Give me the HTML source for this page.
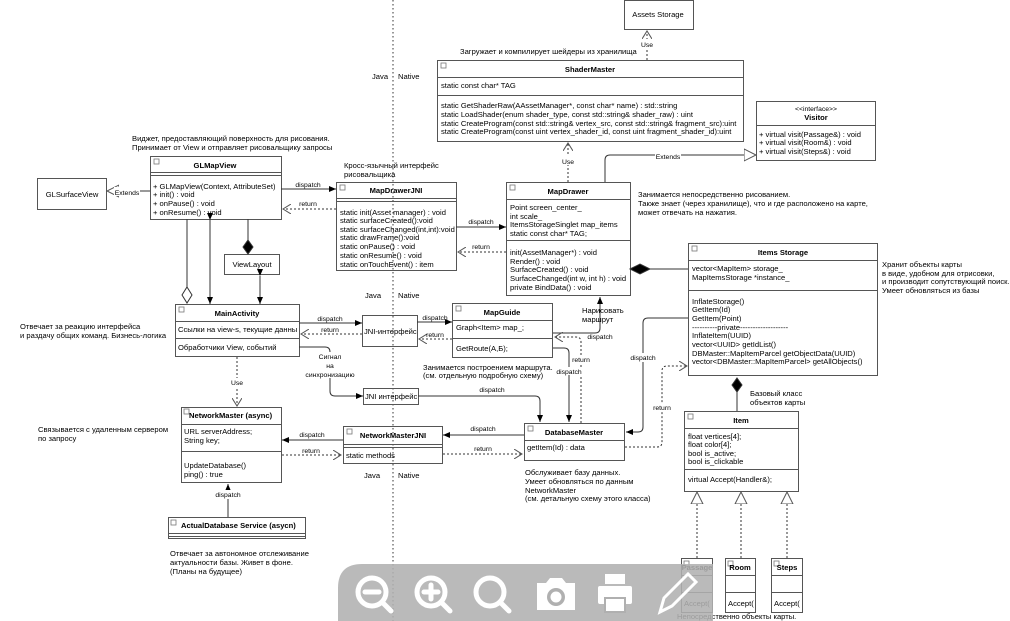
<!DOCTYPE html>
<html><head><meta charset="utf-8"><style>
html,body{margin:0;padding:0;background:#fff;}
svg{display:block;font-family:"Liberation Sans","DejaVu Sans",sans-serif;}
text{font-size:7.6px;fill:#000;}
.b{font-weight:bold;}
.s{font-size:6.8px;}
</style></head><body>
<svg width="1010" height="621" viewBox="0 0 1010 621" xmlns="http://www.w3.org/2000/svg">
<defs>
<marker id="fa" markerWidth="8" markerHeight="8" refX="7" refY="4" orient="auto" markerUnits="userSpaceOnUse"><path d="M0,1 L7,4 L0,7 z" fill="#000"/></marker>
<marker id="oa" markerWidth="10" markerHeight="10" refX="8" refY="5" orient="auto" markerUnits="userSpaceOnUse"><path d="M0,0 L8,5 L0,10" fill="none" stroke="#555" stroke-width="1"/></marker>
<marker id="ha" markerWidth="14" markerHeight="14" refX="12" refY="7" orient="auto" markerUnits="userSpaceOnUse"><path d="M0,1 L12,7 L0,13 z" fill="#fff" stroke="#555" stroke-width="1"/></marker>
</defs>
<g fill="none" stroke="#555" stroke-width="1">
<line x1="393" y1="0" x2="393" y2="621" stroke="#333" stroke-dasharray="1.5,2.5"/>
<rect x="624.5" y="0.5" width="69" height="29"/>
<rect x="437.5" y="60.5" width="306" height="81"/><line x1="437" y1="77.5" x2="744" y2="77.5"/><line x1="437" y1="95.5" x2="744" y2="95.5"/>
<rect x="756.5" y="101.5" width="119" height="59"/><line x1="756" y1="125.5" x2="876" y2="125.5"/>
<rect x="506.5" y="182.5" width="124" height="113"/><line x1="506" y1="199.5" x2="631" y2="199.5"/><line x1="506" y1="240.5" x2="631" y2="240.5"/>
<rect x="688.5" y="243.5" width="189" height="132"/><line x1="688" y1="260.5" x2="878" y2="260.5"/><line x1="688" y1="290.5" x2="878" y2="290.5"/>
<rect x="684.5" y="411.5" width="114" height="80"/><line x1="684" y1="428.5" x2="799" y2="428.5"/><line x1="684" y1="469.5" x2="799" y2="469.5"/>
<rect x="681.5" y="558.5" width="31" height="54"/><line x1="681" y1="575.5" x2="713" y2="575.5"/><line x1="681" y1="592.5" x2="713" y2="592.5"/>
<rect x="725.5" y="558.5" width="30" height="54"/><line x1="725" y1="575.5" x2="756" y2="575.5"/><line x1="725" y1="592.5" x2="756" y2="592.5"/>
<rect x="771.5" y="558.5" width="31" height="54"/><line x1="771" y1="575.5" x2="803" y2="575.5"/><line x1="771" y1="592.5" x2="803" y2="592.5"/>
<rect x="150.5" y="156.5" width="131" height="63"/><line x1="150" y1="172.5" x2="282" y2="172.5"/><line x1="150" y1="175.5" x2="282" y2="175.5"/>
<rect x="37.5" y="178.5" width="69" height="31"/>
<rect x="336.5" y="182.5" width="120" height="88"/><line x1="336" y1="198.5" x2="457" y2="198.5"/><line x1="336" y1="201.5" x2="457" y2="201.5"/>
<rect x="224.5" y="254.5" width="55" height="20"/>
<rect x="175.5" y="304.5" width="124" height="52"/><line x1="175" y1="321.5" x2="300" y2="321.5"/><line x1="175" y1="338.5" x2="300" y2="338.5"/>
<rect x="362.5" y="315.5" width="55" height="31"/>
<rect x="452.5" y="303.5" width="100" height="54"/><line x1="452" y1="320.5" x2="553" y2="320.5"/><line x1="452" y1="338.5" x2="553" y2="338.5"/>
<rect x="363.5" y="388.5" width="55" height="16"/>
<rect x="524.5" y="423.5" width="100" height="37"/><line x1="524" y1="440.5" x2="625" y2="440.5"/>
<rect x="343.5" y="426.5" width="99" height="37"/><line x1="343" y1="444.5" x2="443" y2="444.5"/><line x1="343" y1="447.5" x2="443" y2="447.5"/>
<rect x="181.5" y="407.5" width="100" height="75"/><line x1="181" y1="424.5" x2="282" y2="424.5"/><line x1="181" y1="451.5" x2="282" y2="451.5"/>
<rect x="168.5" y="517.5" width="137" height="21"/><line x1="168" y1="533.5" x2="306" y2="533.5"/><line x1="168" y1="536.5" x2="306" y2="536.5"/>
</g>
<g fill="#fff" stroke="#777" stroke-width="0.8">
<rect x="441" y="63" width="5" height="5"/><rect x="510" y="185" width="5" height="5"/><rect x="692" y="246" width="5" height="5"/><rect x="688" y="414" width="5" height="5"/>
<rect x="154" y="159" width="5" height="5"/><rect x="340" y="185" width="5" height="5"/><rect x="179" y="307" width="5" height="5"/><rect x="456" y="306" width="5" height="5"/>
<rect x="528" y="426" width="5" height="5"/><rect x="347" y="429" width="5" height="5"/><rect x="184" y="409" width="5" height="5"/><rect x="171" y="520" width="5" height="5"/>
<rect x="684" y="561" width="5" height="5"/><rect x="728" y="561" width="5" height="5"/><rect x="774" y="561" width="5" height="5"/>
</g>
<g fill="none" stroke="#333" stroke-width="1">
<line x1="647" y1="60" x2="647" y2="31" stroke-dasharray="2,2" marker-end="url(#oa)"/>
<line x1="568" y1="182" x2="568" y2="143" stroke-dasharray="2,2" marker-end="url(#oa)"/>
<path d="M605,182 V160 Q605,155 610,155 H756" marker-end="url(#ha)"/>
<path d="M688,269 H650"/><path d="M630,269 L640,264 L650,269 L640,274 z" fill="#000"/>
<path d="M737,411 V392"/><path d="M737,378 L742,385 L737,392 L732,385 z" fill="#000"/>
<line x1="697" y1="558" x2="697" y2="492" stroke-dasharray="2,2" marker-end="url(#ha)"/>
<line x1="741" y1="558" x2="741" y2="492" stroke-dasharray="2,2" marker-end="url(#ha)"/>
<line x1="787" y1="558" x2="787" y2="492" stroke-dasharray="2,2" marker-end="url(#ha)"/>
<line x1="150" y1="191" x2="107" y2="191" marker-end="url(#ha)"/>
<line x1="281" y1="189" x2="336" y2="189" marker-end="url(#fa)"/>
<line x1="336" y1="209" x2="283" y2="209" stroke-dasharray="2,2" marker-end="url(#oa)"/>
<line x1="456" y1="227" x2="506" y2="227" marker-end="url(#fa)"/>
<line x1="506" y1="252" x2="458" y2="252" stroke-dasharray="2,2" marker-end="url(#oa)"/>
<path d="M248,219 V240"/><path d="M248,240 L253,247 L248,254 L243,247 z" fill="#000"/>
<line x1="260" y1="276" x2="260" y2="304" marker-start="url(#fa)" marker-end="url(#fa)"/>
<line x1="210" y1="220" x2="210" y2="304" marker-start="url(#fa)" marker-end="url(#fa)"/>
<path d="M187,219 V287"/><path d="M187,287 L192,295 L187,303 L182,295 z" fill="#fff"/>
<line x1="299" y1="323" x2="362" y2="323" marker-end="url(#fa)"/>
<line x1="362" y1="334" x2="301" y2="334" stroke-dasharray="2,2" marker-end="url(#oa)"/>
<line x1="417" y1="322" x2="452" y2="322" marker-end="url(#fa)"/>
<line x1="452" y1="339" x2="419" y2="339" stroke-dasharray="2,2" marker-end="url(#oa)"/>
<path d="M553,333 H595 Q600,333 600,328 V297" marker-end="url(#fa)"/>
<path d="M581,423 V342 Q581,337 576,337 H555" stroke-dasharray="2,2" marker-end="url(#oa)"/>
<path d="M553,348 H564 Q569,348 569,353 V422" marker-end="url(#fa)"/>
<path d="M688,318 H648 Q643,318 643,323 V427 Q643,432 638,432 H626" marker-end="url(#fa)"/>
<path d="M625,447 H657 Q662,447 662,442 V371 Q662,366 667,366 H687" stroke-dasharray="2,2" marker-end="url(#oa)"/>
<path d="M299,347 H325 Q330,347 330,352 V391 Q330,396 335,396 H363" marker-end="url(#fa)"/>
<path d="M418,396 H535 Q540,396 540,401 V422" marker-end="url(#fa)"/>
<line x1="524" y1="435" x2="443" y2="435" marker-end="url(#fa)"/>
<line x1="443" y1="454" x2="522" y2="454" stroke-dasharray="2,2" marker-end="url(#oa)"/>
<line x1="343" y1="440" x2="282" y2="440" marker-end="url(#fa)"/>
<line x1="282" y1="455" x2="341" y2="455" stroke-dasharray="2,2" marker-end="url(#oa)"/>
<line x1="237" y1="357" x2="237" y2="406" stroke-dasharray="2,2" marker-end="url(#oa)"/>
<line x1="228" y1="517" x2="228" y2="484" marker-end="url(#fa)"/>
</g>
<g class="s">
<rect x="638" y="39" width="18" height="9" fill="#fff"/><text x="647" y="47" text-anchor="middle" class="s">Use</text>
<rect x="559" y="156" width="18" height="9" fill="#fff"/><text x="568" y="164" text-anchor="middle" class="s">Use</text>
<rect x="655" y="151" width="26" height="9" fill="#fff"/><text x="668" y="159" text-anchor="middle" class="s">Extends</text>
<rect x="114" y="187" width="26" height="9" fill="#fff"/><text x="127" y="195" text-anchor="middle" class="s">Extends</text>
<text x="308" y="187" text-anchor="middle" class="s">dispatch</text>
<text x="308" y="206" text-anchor="middle" class="s">return</text>
<text x="481" y="224" text-anchor="middle" class="s">dispatch</text>
<text x="481" y="249" text-anchor="middle" class="s">return</text>
<text x="330" y="321" text-anchor="middle" class="s">dispatch</text>
<text x="330" y="332" text-anchor="middle" class="s">return</text>
<text x="435" y="320" text-anchor="middle" class="s">dispatch</text>
<text x="435" y="337" text-anchor="middle" class="s">return</text>
<text x="600" y="339" text-anchor="middle" class="s">dispatch</text>
<rect x="570" y="355" width="22" height="8" fill="#fff"/><text x="581" y="362" text-anchor="middle" class="s">return</text>
<rect x="555" y="367" width="28" height="8" fill="#fff"/><text x="569" y="374" text-anchor="middle" class="s">dispatch</text>
<rect x="629" y="353" width="28" height="9" fill="#fff"/><text x="643" y="360" text-anchor="middle" class="s">dispatch</text>
<rect x="651" y="403" width="22" height="9" fill="#fff"/><text x="662" y="410" text-anchor="middle" class="s">return</text>
<rect x="316" y="352" width="28" height="26" fill="#fff"/>
<text x="330" y="359" text-anchor="middle" class="s">Сигнал</text><text x="330" y="368" text-anchor="middle" class="s">на</text><text x="330" y="377" text-anchor="middle" class="s">синхронизацию</text>
<text x="492" y="392" text-anchor="middle" class="s">dispatch</text>
<text x="483" y="431" text-anchor="middle" class="s">dispatch</text>
<text x="483" y="451" text-anchor="middle" class="s">return</text>
<text x="312" y="437" text-anchor="middle" class="s">dispatch</text>
<text x="311" y="453" text-anchor="middle" class="s">return</text>
<rect x="228" y="378" width="18" height="9" fill="#fff"/><text x="237" y="385" text-anchor="middle" class="s">Use</text>
<rect x="212" y="490" width="32" height="9" fill="#fff"/><text x="228" y="497" text-anchor="middle" class="s">dispatch</text>
</g>
<text x="372" y="79">Java</text><text x="398" y="79">Native</text>
<text x="365" y="298">Java</text><text x="398" y="298">Native</text>
<text x="364" y="478">Java</text><text x="398" y="478">Native</text>
<text x="658" y="17" text-anchor="middle">Assets Storage</text>
<text x="460" y="54">Загружает и компилирует шейдеры из хранилища</text>
<text x="590" y="72" text-anchor="middle" class="b">ShaderMaster</text>
<text x="441" y="88">static const char* TAG</text>
<text x="441" y="108">static GetShaderRaw(AAssetManager*, const char* name) : std::string</text>
<text x="441" y="117">static LoadShader(enum shader_type, const std::string&amp; shader_raw) : uint</text>
<text x="441" y="126">static CreateProgram(const std::string&amp; vertex_src, const std::string&amp; fragment_src):uint</text>
<text x="441" y="134">static CreateProgram(const uint vertex_shader_id, const uint fragment_shader_id):uint</text>
<text x="816" y="111" text-anchor="middle" class="s">&lt;&lt;interface&gt;&gt;</text>
<text x="816" y="120" text-anchor="middle" class="b">Visitor</text>
<text x="759" y="137">+ virtual visit(Passage&amp;) : void</text>
<text x="759" y="145">+ virtual visit(Room&amp;) : void</text>
<text x="759" y="154">+ virtual visit(Steps&amp;) : void</text>
<text x="568" y="194" text-anchor="middle" class="b">MapDrawer</text>
<text x="510" y="210">Point screen_center_</text>
<text x="510" y="219">int scale_</text>
<text x="510" y="227">ItemsStorageSinglet map_items</text>
<text x="510" y="236">static const char* TAG;</text>
<text x="510" y="255">init(AssetManager*) : void</text>
<text x="510" y="264">Render() : void</text>
<text x="510" y="272">SurfaceCreated() : void</text>
<text x="510" y="281">SurfaceChanged(int w, int h) : void</text>
<text x="510" y="290">private BindData() : void</text>
<text x="638" y="197">Занимается непосредственно рисованием.</text>
<text x="638" y="206">Также знает (через хранилище), что и где расположено на карте,</text>
<text x="638" y="215">может отвечать на нажатия.</text>
<text x="783" y="255" text-anchor="middle" class="b">Items Storage</text>
<text x="692" y="271">vector&lt;MapItem&gt; storage_</text>
<text x="692" y="280">MapItemsStorage *instance_</text>
<text x="692" y="304">InflateStorage()</text>
<text x="692" y="312">GetItem(Id)</text>
<text x="692" y="321">GetItem(Point)</text>
<text x="692" y="330">----------private-------------------</text>
<text x="692" y="338">InflateItem(UUID)</text>
<text x="692" y="347">vector&lt;UUID&gt; getIdList()</text>
<text x="692" y="356">DBMaster::MapItemParcel getObjectData(UUID)</text>
<text x="692" y="364">vector&lt;DBMaster::MapItemParcel&gt; getAllObjects()</text>
<text x="882" y="267">Хранит объекты карты</text>
<text x="882" y="276">в виде, удобном для отрисовки,</text>
<text x="882" y="284">и производит сопутствующий поиск.</text>
<text x="882" y="293">Умеет обновляться из базы</text>
<text x="750" y="396">Базовый класс</text>
<text x="750" y="405">объектов карты</text>
<text x="741" y="423" text-anchor="middle" class="b">Item</text>
<text x="688" y="439">float vertices[4];</text>
<text x="688" y="447">float color[4];</text>
<text x="688" y="456">bool is_active;</text>
<text x="688" y="464">bool is_clickable</text>
<text x="688" y="482">virtual Accept(Handler&amp;);</text>
<text x="697" y="570" text-anchor="middle" class="b">Passage</text>
<text x="740" y="570" text-anchor="middle" class="b">Room</text>
<text x="787" y="570" text-anchor="middle" class="b">Steps</text>
<text x="684" y="606">Accept(</text><text x="728" y="606">Accept(</text><text x="774" y="606">Accept(</text>
<text x="677" y="619">Непосредственно объекты карты.</text>
<text x="132" y="141">Виджет,  предоставляющий поверхность для рисования.</text>
<text x="132" y="150">Принимает от View и отправляет рисовальщику запросы</text>
<text x="215" y="168" text-anchor="middle" class="b">GLMapView</text>
<text x="153" y="189">+ GLMapView(Context, AttributeSet)</text>
<text x="153" y="197">+ init() : void</text>
<text x="153" y="206">+ onPause() : void</text>
<text x="153" y="215">+ onResume() : void</text>
<text x="72" y="197" text-anchor="middle">GLSurfaceView</text>
<text x="344" y="168">Кросс-язычный интерфейс</text>
<text x="344" y="177">рисовальщика</text>
<text x="396" y="193" text-anchor="middle" class="b">MapDrawerJNI</text>
<text x="340" y="215">static init(Asset manager) : void</text>
<text x="340" y="223">static surfaceCreated():void</text>
<text x="340" y="232">static surfaceChanged(int,int):void</text>
<text x="340" y="240">static drawFrame():void</text>
<text x="340" y="249">static onPause() : void</text>
<text x="340" y="258">static onResume() : void</text>
<text x="340" y="267">static onTouchEvent() : item</text>
<text x="252" y="267" text-anchor="middle">ViewLayout</text>
<text x="237" y="316" text-anchor="middle" class="b">MainActivity</text>
<text x="178" y="332">Ссылки на view-s, текущие данны</text>
<text x="178" y="350">Обработчики View, событий</text>
<text x="20" y="329">Отвечает за реакцию интерфейса</text>
<text x="20" y="338">и раздачу общих команд. Бизнесь-логика</text>
<text x="364" y="334">JNI-интерфейс</text>
<text x="502" y="315" text-anchor="middle" class="b">MapGuide</text>
<text x="456" y="330">Graph&lt;Item&gt; map_;</text>
<text x="456" y="351">GetRoute(A,Б);</text>
<text x="582" y="313">Нарисовать</text><text x="582" y="322">маршрут</text>
<text x="423" y="370">Занимается построением маршрута.</text>
<text x="423" y="378">(см. отдельную подробную схему)</text>
<text x="365" y="399">JNI интерфейс</text>
<text x="574" y="435" text-anchor="middle" class="b">DatabaseMaster</text>
<text x="527" y="450">getItem(Id) : data</text>
<text x="525" y="475">Обслуживает базу данных.</text>
<text x="525" y="484">Умеет обновляться по данным</text>
<text x="525" y="493">NetworkMaster</text>
<text x="525" y="501">(см. детальную схему этого класса)</text>
<text x="393" y="438" text-anchor="middle" class="b">NetworkMasterJNI</text>
<text x="346" y="458">static methods</text>
<text x="189" y="418" class="b">NetworkMaster (async)</text>
<text x="184" y="434">URL serverAddress;</text>
<text x="184" y="443">String key;</text>
<text x="184" y="468">UpdateDatabase()</text>
<text x="184" y="477">ping() : true</text>
<text x="38" y="432">Связывается с удаленным сервером</text>
<text x="38" y="441">по запросу</text>
<text x="181" y="528" class="b">ActualDatabase Service (asycn)</text>
<text x="170" y="556">Отвечает за автономное отслеживание</text>
<text x="170" y="565">актуальности базы. Живет в фоне.</text>
<text x="170" y="574">(Планы на будущее)</text>
<path d="M362,564 H713 V621 H338 V588 Q338,564 362,564 z" fill="#b0b0b0" fill-opacity="0.88"/>
<g fill="none" stroke="#fff" stroke-width="5" stroke-linecap="round">
<circle cx="372" cy="592" r="14"/><line x1="382" y1="602" x2="391" y2="611"/><line x1="365" y1="592" x2="379" y2="592"/>
<circle cx="431" cy="592" r="14"/><line x1="441" y1="602" x2="450" y2="611"/><line x1="424" y1="592" x2="438" y2="592"/><line x1="431" y1="585" x2="431" y2="599"/>
<circle cx="490" cy="592" r="14"/><line x1="500" y1="602" x2="509" y2="611"/>
</g>
<g fill="#fff">
<path d="M537,583 H546 L550,578 H562 L566,583 H575 V610 H537 z"/>
<circle cx="556" cy="597" r="9" fill="#b0b0b0"/><circle cx="556" cy="597" r="5.5" fill="#fff"/>
<rect x="605" y="574" width="20" height="10"/><rect x="598" y="586" width="34" height="18" rx="2"/>
<rect x="605" y="598" width="20" height="14" fill="#fff" stroke="#b0b0b0" stroke-width="2"/>
<path d="M660,612 L664,598 L688,574 L696,582 L672,606 z" fill="none" stroke="#fff" stroke-width="3"/>
</g>
</svg>
</body></html>
